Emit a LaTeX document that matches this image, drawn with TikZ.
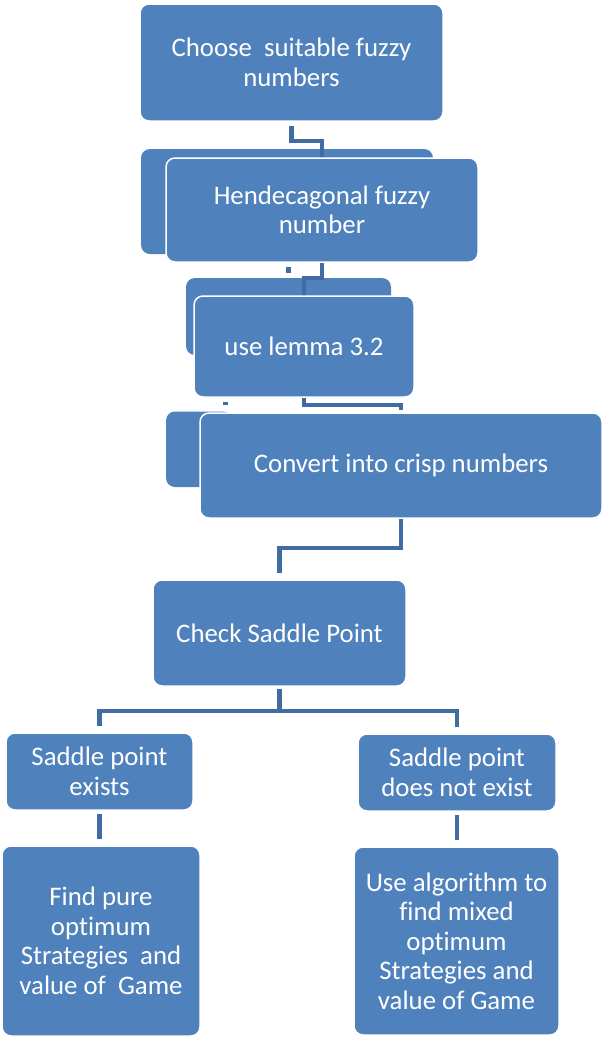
\documentclass[tikz,border=0pt]{standalone}
\usepackage{fontspec}
\setmainfont[Ligatures={NoCommon}]{Carlito}
\usetikzlibrary{calc}
\definecolor{boxblue}{HTML}{4F81BD}
\definecolor{connblue}{RGB}{64,108,163}
\tikzset{
  box/.style={draw=white, line width=1.5pt, fill=boxblue, rounded corners=9pt,
    text=white, align=center, inner sep=0pt, font=\fontsize{26.8}{29.5}\selectfont},
  backbox/.style={fill=boxblue, rounded corners=9pt},
  conn/.style={draw=connblue, line width=4.5pt},
}
\newcommand{\bx}[6]{% name, x1, y1, x2, y2, text
  \node[box, minimum width={#4-#2}, minimum height={#5-#3}] (#1) at ({(#2+#4)/2},{(#3+#5)/2}) {#6};}
\begin{document}
\begin{tikzpicture}[x=1pt,y=-1pt]
\useasboundingbox (0,0) rectangle (603,1037);
% top box
\bx{b1}{140}{4}{443}{121}{Choose\ \ suitable fuzzy\\numbers}
% second group
\fill[backbox] (141,149) rectangle (433,254);
\coordinate (k1) at (305,141);
\draw[conn, shorten <=4pt] (b1.south) |- (k1) -| (322,158);
\bx{b2}{166}{158}{478}{262}{Hendecagonal fuzzy\\number}
% third group
\fill[backbox] (186,278) rectangle (391,355);
\fill[connblue] (286,267) rectangle (291,273);
\coordinate (k2) at (313,278);
\draw[conn] (b2.south) |- (k2) -| (304,296);
\bx{b3}{194}{296}{414}{397}{use lemma 3.2}
% fourth group
\fill[backbox] (166,411.5) rectangle (232,487);
\fill[connblue] (223,401.5) rectangle (228,404.5);
\coordinate (k3) at (350,405);
\draw[conn, shorten >=3pt] (b3.south) |- (k3) -| (401,413);
\bx{b4}{200}{413}{602}{518}{Convert into crisp numbers}
% check saddle point
\bx{b5}{153}{580}{406}{686}{Check Saddle Point}
\coordinate (k4) at (340,548);
\draw[conn, shorten >=6pt] (b4.south) |- (k4) -| (b5.north);
% branches
\bx{b6}{6}{733}{193}{810}{Saddle point\\exists}
\bx{b7}{358}{734}{556}{811}{Saddle point\\does not exist}
\coordinate (k5) at ($(b5.south)+(0,24)$);
\draw[conn, shorten <=2pt] (b5.south) -- (k5);
\draw[conn, shorten <=6pt, shorten >=6pt] (b6.north) |- (k5) -| (b7.north);
% leaves
\bx{b8}{2}{846}{200}{1036}{Find pure\\optimum\\Strategies\ \ and\\value of\ \ Game}
\bx{b9}{354}{847}{559}{1035}{Use algorithm to\\find mixed\\optimum\\Strategies and\\value of Game}
\draw[conn, shorten <=3pt, shorten >=6pt] (b6.south) -- (b6.south |- b8.north);
\draw[conn, shorten <=3pt, shorten >=6pt] (b7.south) -- (b7.south |- b9.north);
\end{tikzpicture}
\end{document}
